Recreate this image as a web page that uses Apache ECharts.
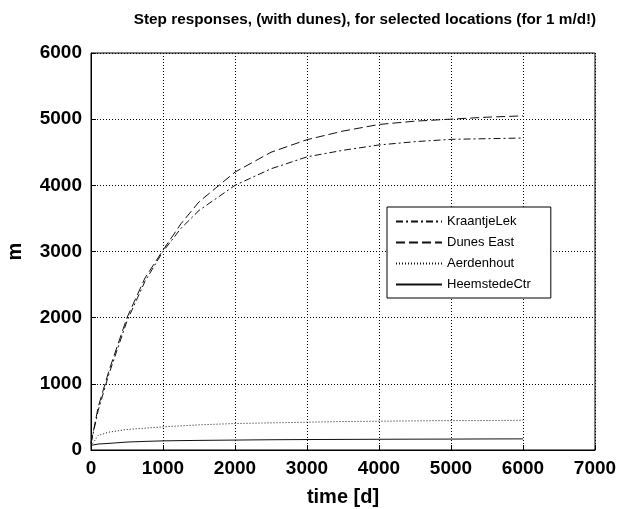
<!DOCTYPE html>
<html>
<head>
<meta charset="utf-8">
<script src="https://cdn.jsdelivr.net/npm/echarts@6/dist/echarts.min.js"></script>
<style>
    html, body { margin: 0; padding: 0; background: #fff; }
    #main { width: 617px; height: 509px; }
</style>
</head>
<body>
<div id="main"></div>
<script>
// time in days, shared by all series
var times = [0, 100, 250, 500, 750, 1000, 1250, 1500, 2000, 2500, 3000, 3500, 4000, 4500, 5000, 5500, 6000];
var kraantjeLek = [100, 600, 1150, 1950, 2550, 3000, 3350, 3620, 4000, 4250, 4430, 4530, 4610, 4660, 4695, 4705, 4715];
var dunesEast = [100, 650, 1200, 2000, 2600, 3020, 3420, 3750, 4200, 4500, 4690, 4820, 4920, 4970, 5000, 5030, 5050];
var aerdenhout = [60, 220, 270, 310, 330, 350, 365, 380, 400, 410, 420, 430, 435, 440, 445, 445, 450];
var heemstedeCtr = [70, 90, 100, 120, 130, 138, 142, 145, 150, 155, 158, 160, 162, 164, 165, 167, 168];
var xTicks = [0, 1000, 7000];
var yTicks = [0, 1000, 6000];

window.onload = function () {
    var myChart = echarts.init(document.getElementById('main'));

    function pairs(values) {
        return times.map(function (t, i) {
            return [t, values[i]];
        });
    }

    function makeSeries(name, values, dash) {
        return {
            name: name,
            type: 'line',
            data: pairs(values),
            symbol: 'none',
            showSymbol: false,
            lineStyle: { color: '#111', width: 1, type: dash },
            itemStyle: { color: '#111' }
        };
    }

    function plain(v) {
        return String(v);
    }

    var labelFont = { fontFamily: 'Liberation Sans, Arial', fontWeight: 'bold', fontSize: 19, color: '#000' };

    var option = {
        backgroundColor: '#fff',
        animation: false,
        title: {
            text: 'Step responses, (with dunes), for selected locations (for 1 m/d!)',
            left: 360,
            textAlign: 'center',
            top: 7,
            textStyle: { fontFamily: 'Liberation Sans, Arial', fontWeight: 'bold', fontSize: 15.3, color: '#000' }
        },
        legend: {
            orient: 'vertical',
            left: 387,
            top: 207,
            backgroundColor: '#fff',
            borderColor: '#000',
            borderWidth: 1,
            borderRadius: 0,
            padding: [8, 20, 7, 8],
            itemWidth: 46,
            itemHeight: 14,
            itemGap: 8,
            itemStyle: { opacity: 0 },
            textStyle: { fontFamily: 'Liberation Sans, Arial', fontSize: 13, color: '#000' },
            data: ['KraantjeLek', 'Dunes East', 'Aerdenhout', 'HeemstedeCtr']
        },
        grid: {
            left: 91,
            right: 22,
            top: 53,
            bottom: 59,
            outerBoundsMode: 'none',
            containLabel: false,
            show: true,
            borderColor: '#000',
            borderWidth: 1
        },
        xAxis: {
            type: 'value',
            min: xTicks[0],
            max: xTicks[2],
            interval: xTicks[1],
            name: 'time [d]',
            nameLocation: 'middle',
            nameGap: 37,
            nameTextStyle: { fontFamily: 'Liberation Sans, Arial', fontWeight: 'bold', fontSize: 20, color: '#000' },
            axisLine: { show: true, lineStyle: { color: '#000', width: 1 } },
            axisTick: { show: true, inside: true, length: 5, lineStyle: { color: '#000' } },
            axisLabel: Object.assign({ margin: 9, formatter: plain }, labelFont),
            splitLine: { show: true, lineStyle: { color: '#000', width: 1, type: [1, 2] } }
        },
        yAxis: {
            type: 'value',
            min: yTicks[0],
            max: yTicks[2],
            interval: yTicks[1],
            name: 'm',
            nameLocation: 'middle',
            nameGap: 66,
            nameRotate: 90,
            nameTextStyle: { fontFamily: 'Liberation Sans, Arial', fontWeight: 'bold', fontSize: 20, color: '#000' },
            axisLine: { show: true, lineStyle: { color: '#000', width: 1 } },
            axisTick: { show: true, inside: true, length: 5, lineStyle: { color: '#000' } },
            axisLabel: Object.assign({ margin: 9, formatter: plain }, labelFont),
            splitLine: { show: true, lineStyle: { color: '#000', width: 1, type: [1, 2] } }
        },
        series: [
            makeSeries('KraantjeLek', kraantjeLek, [7, 3, 2, 3]),
            makeSeries('Dunes East', dunesEast, [9, 4]),
            makeSeries('Aerdenhout', aerdenhout, [1, 2]),
            makeSeries('HeemstedeCtr', heemstedeCtr, 'solid')
        ]
    };

    myChart.setOption(option);
};
</script>
</body>
</html>
